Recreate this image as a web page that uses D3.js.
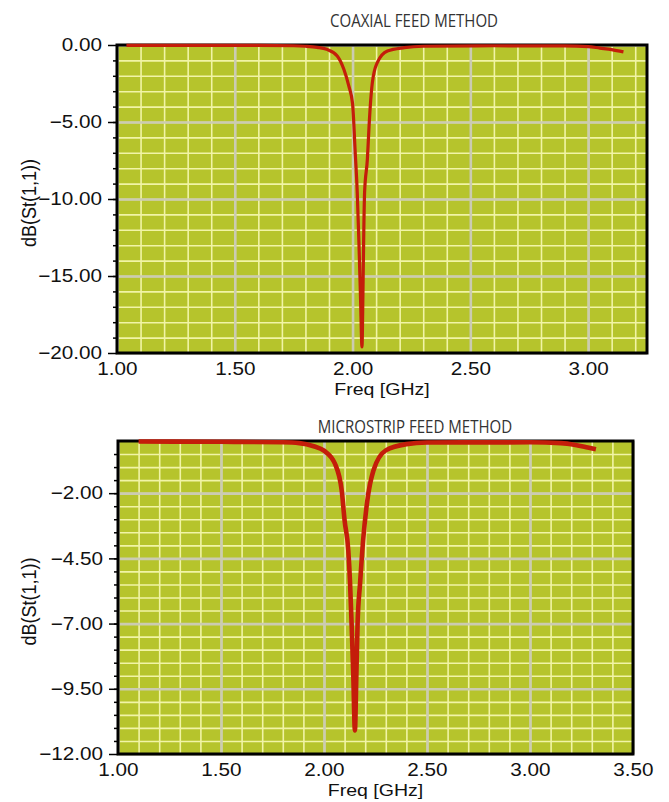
<!DOCTYPE html>
<html>
<head>
<meta charset="utf-8">
<script src="https://cdnjs.cloudflare.com/ajax/libs/d3/7.8.5/d3.min.js"></script>
<style>
  body { margin: 0; background: #fff; }
  svg { display: block; }
</style>
</head>
<body>
<svg id="chart" width="669" height="802"></svg>
<script>
// ---- data ----
var topTitle = "COAXIAL FEED METHOD";
var topFreq = [1.04, 1.30, 1.60, 1.75, 1.80, 1.85, 1.89, 1.935, 1.963, 1.984, 2.000, 2.005, 2.010, 2.020, 2.027, 2.034, 2.040, 2.044, 2.047, 2.051, 2.063, 2.070, 2.077, 2.084, 2.105, 2.148, 2.22, 2.30, 2.60, 2.90, 3.00, 3.05, 3.10, 3.15];
var topDb = [-0.02, -0.02, -0.03, -0.05, -0.08, -0.15, -0.28, -0.71, -1.58, -2.66, -3.8, -5.0, -6.6, -9.6, -12.8, -16.5, -19.6, -16.2, -12.8, -9.6, -7.4, -5.3, -3.6, -2.44, -1.14, -0.39, -0.17, -0.08, -0.05, -0.06, -0.1, -0.2, -0.3, -0.45];
var topXTicks = [1.0, 1.5, 2.0, 2.5, 3.0];
var topYTicks = [0, -5, -10, -15, -20];

var botTitle = "MICROSTRIP FEED METHOD";
var botFreq = [1.10, 1.50, 1.80, 1.88, 1.95, 2.00, 2.053, 2.086, 2.100, 2.118, 2.126, 2.134, 2.142, 2.150, 2.157, 2.163, 2.175, 2.190, 2.210, 2.240, 2.300, 2.400, 2.500, 3.000, 3.150, 3.220, 3.280, 3.320];
var botDb = [-0.02, -0.03, -0.05, -0.08, -0.2, -0.37, -0.87, -1.9, -3.05, -4.2, -5.35, -7.0, -8.9, -11.1, -9.0, -7.0, -5.47, -3.8, -2.3, -1.13, -0.36, -0.12, -0.06, -0.05, -0.08, -0.15, -0.25, -0.32];
var botXTicks = [1.0, 1.5, 2.0, 2.5, 3.0, 3.5];
var botYTicks = [-2, -4.5, -7, -9.5, -12];

var xLabel = "Freq [GHz]";
var yLabel = "dB(St(1,1))";

var svg = d3.select("#chart");
var stretch = "scale(1.15,1)";

function drawPanel(p) {
    var x = d3.scaleLinear().domain(p.xDomain).range([0, p.w]);
    var y = d3.scaleLinear().domain(p.yDomain).range([p.h, 0]);
    var g = svg.append("g").attr("transform", "translate(" + p.left + "," + p.top + ")");

    // plot background
    g.append("rect")
        .attr("width", p.w).attr("height", p.h)
        .attr("fill", "#b6c42c");

    // minor grid
    g.append("g")
        .attr("transform", "translate(0," + p.h + ")")
        .call(d3.axisBottom(x).tickValues(p.xMinor).tickSize(-p.h).tickFormat(""))
        .call(function (s) {
            s.select(".domain").remove();
            s.selectAll("line").attr("stroke", "#f1f4a6").attr("stroke-width", 1.6);
        });
    g.append("g")
        .call(d3.axisLeft(y).tickValues(p.yMinor).tickSize(-p.w).tickFormat(""))
        .call(function (s) {
            s.select(".domain").remove();
            s.selectAll("line").attr("stroke", "#f1f4a6").attr("stroke-width", 1.6);
        });

    // major grid
    g.append("g")
        .attr("transform", "translate(0," + p.h + ")")
        .call(d3.axisBottom(x).tickValues(p.xTicks).tickSize(-p.h).tickFormat(""))
        .call(function (s) {
            s.select(".domain").remove();
            s.selectAll("line").attr("stroke", "#cbcbb2").attr("stroke-width", 2.6);
        });
    g.append("g")
        .call(d3.axisLeft(y).tickValues(p.yTicks).tickSize(-p.w).tickFormat(""))
        .call(function (s) {
            s.select(".domain").remove();
            s.selectAll("line").attr("stroke", "#cbcbb2").attr("stroke-width", 2.6);
        });

    // border
    g.append("rect")
        .attr("width", p.w).attr("height", p.h)
        .attr("fill", "none")
        .attr("stroke", "#000")
        .attr("stroke-width", 3);

    // y minor ticks
    g.append("g")
        .call(d3.axisLeft(y).tickValues(p.yMinor).tickSize(4).tickFormat(""))
        .call(function (s) {
            s.select(".domain").remove();
            s.selectAll("line").attr("stroke", "#000").attr("stroke-width", 1.5);
        });

    // y axis
    g.append("g")
        .call(d3.axisLeft(y).tickValues(p.yTicks).tickSize(9).tickPadding(4).tickFormat(d3.format(".2f")))
        .call(function (s) {
            s.select(".domain").remove();
            s.selectAll("line").attr("stroke", "#000").attr("stroke-width", 1.5);
            s.selectAll("text")
                .attr("transform", stretch)
                .attr("fill", "#111")
                .style("font-family", "'Liberation Sans', Arial, sans-serif")
                .style("font-size", "18px");
        });

    // x axis
    g.append("g")
        .attr("transform", "translate(0," + p.h + ")")
        .call(d3.axisBottom(x).tickValues(p.xTicks).tickSize(0).tickPadding(9).tickFormat(d3.format(".2f")))
        .call(function (s) {
            s.select(".domain").remove();
            s.selectAll("text")
                .attr("transform", stretch)
                .attr("fill", "#111")
                .style("font-family", "'Liberation Sans', Arial, sans-serif")
                .style("font-size", "18px");
        });

    // axis labels
    g.append("text")
        .attr("transform", "translate(" + (p.w / 2) + "," + (p.h + 42) + ") " + stretch)
        .attr("text-anchor", "middle")
        .attr("fill", "#111")
        .style("font-family", "'Liberation Sans', Arial, sans-serif")
        .style("font-size", "17px")
        .text(xLabel);

    g.append("text")
        .attr("transform", "translate(" + (36 - p.left) + "," + (p.h / 2 + 4) + ") " + stretch + " rotate(-90)")
        .attr("text-anchor", "middle")
        .attr("fill", "#111")
        .style("font-family", "'Liberation Sans', Arial, sans-serif")
        .style("font-size", "18px")
        .text(yLabel);

    // title
    svg.append("text")
        .attr("transform", "translate(" + p.titleX + "," + p.titleY + ") scale(0.86,1)")
        .attr("text-anchor", "middle")
        .attr("fill", "#333")
        .style("font-family", "'Open Sans', sans-serif")
        .style("font-size", "17.5px")
        .text(p.title);

    // curve
    var line = d3.line()
        .x(function (d) { return x(d[0]); })
        .y(function (d) { return y(d[1]); })
        .curve(d3.curveMonotoneX);

    g.append("path")
        .datum(d3.zip(p.freq, p.db))
        .attr("d", line)
        .attr("fill", "none")
        .attr("stroke", "#c41d0a")
        .attr("stroke-width", p.lineW)
        .attr("stroke-linejoin", "round");
}

drawPanel({
    left: 117, top: 45, w: 530, h: 308,
    xDomain: [1, 3.25], yDomain: [-20, 0],
    xTicks: topXTicks, yTicks: topYTicks,
    xMinor: d3.range(1.1, 3.25, 0.1), yMinor: d3.range(-1, -20, -1),
    freq: topFreq, db: topDb,
    title: topTitle, titleX: 414, titleY: 27, lineW: 3.2
});

drawPanel({
    left: 118, top: 441, w: 515, h: 313,
    xDomain: [1, 3.5], yDomain: [-12, 0],
    xTicks: botXTicks, yTicks: botYTicks,
    xMinor: d3.range(1.1, 3.5, 0.1), yMinor: d3.range(-0.5, -12, -0.5),
    freq: botFreq, db: botDb,
    title: botTitle, titleX: 415, titleY: 433, lineW: 4.6
});
</script>
</body>
</html>
